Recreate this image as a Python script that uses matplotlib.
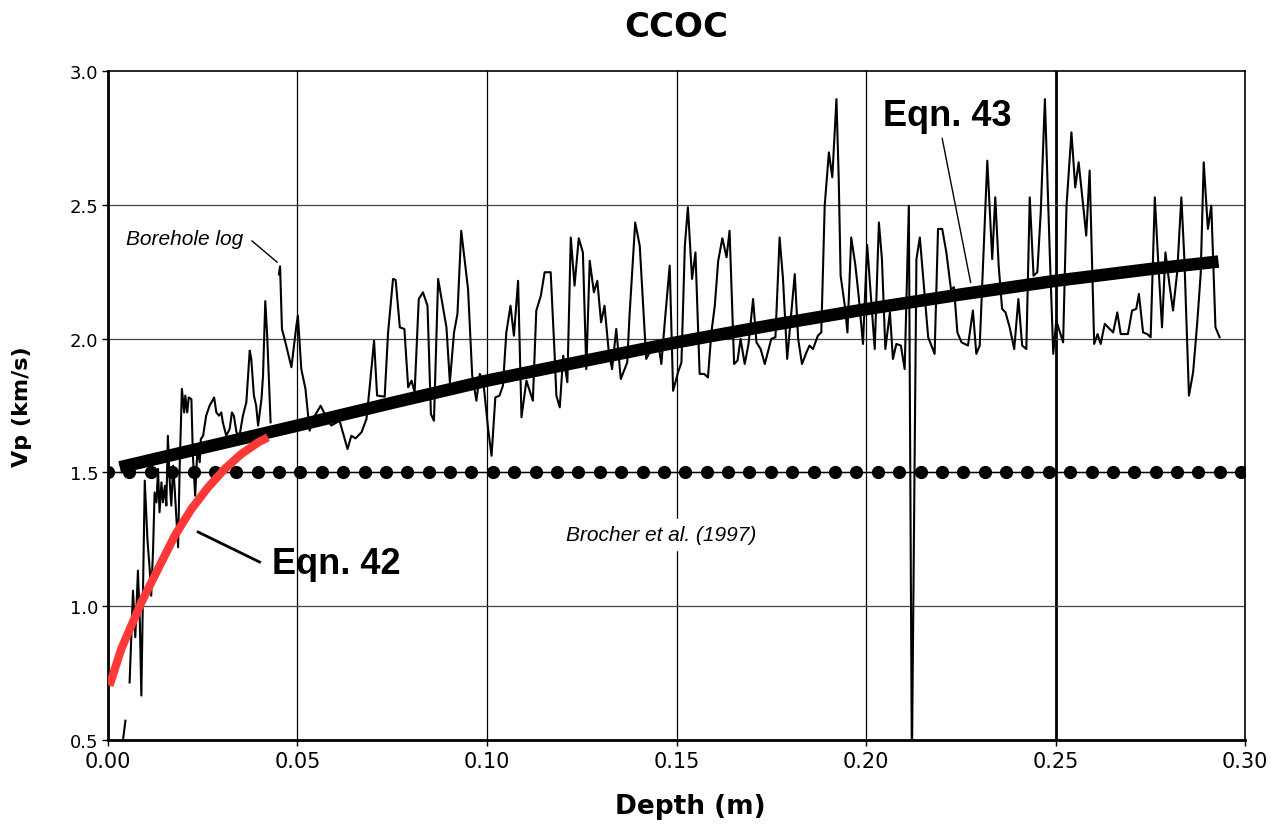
import numpy as np
import matplotlib
matplotlib.use('Agg')
import matplotlib.pyplot as plt

# borehole log (NaN = gap in the log)
depth_log = [
    0.0036, 0.0046, np.nan,
    0.0057, 0.0066, 0.0072, 0.0079, 0.0084, 0.0088, 0.0092, 0.0097, 0.0104, 0.0110,
    0.0114, 0.0119, 0.0123, 0.0128, 0.0132, 0.0136, 0.0141, 0.0145, 0.0150, 0.0154,
    0.0158, 0.0163, 0.0167, 0.0172, 0.0176, 0.0185, 0.0189, 0.0195, 0.0201, 0.0204,
    0.0209, 0.0213, 0.0220, 0.0224, 0.0230, 0.0236, 0.0242, 0.0245, 0.0251, 0.0259,
    0.0268, 0.0280, 0.0286, 0.0293, 0.0299, 0.0303, 0.0312, 0.0321, 0.0327, 0.0332,
    0.0339, 0.0347, 0.0356, 0.0365, 0.0374, 0.0378, 0.0385, 0.0391, 0.0396, 0.0405,
    0.0409, 0.0415, 0.0420, 0.0429, np.nan,
    0.0451, 0.0454, 0.0459, 0.0466, 0.0484, 0.0497,
    0.0501, 0.0510, 0.0521, 0.0532, 0.0541, 0.0561, 0.0572, 0.0589, 0.0611, 0.0632,
    0.0642, 0.0653, 0.0669, 0.0682, 0.0690, 0.0702, 0.0710, 0.0730, 0.0739, 0.0752,
    0.0759, 0.0770, 0.0782, 0.0792, 0.0801, 0.0809, 0.0820, 0.0831, 0.0843, 0.0852,
    0.0860, 0.0871, 0.0893, 0.0902, 0.0913, 0.0922, 0.0932, 0.0950, 0.0961, 0.0972,
    0.0981, 0.0990, 0.1003, 0.1012, 0.1022, 0.1033, 0.1042, 0.1051, 0.1062, 0.1071,
    0.1082, 0.1091, 0.1104, 0.1121, 0.1130, 0.1142, 0.1152, 0.1168, 0.1179, 0.1183,
    0.1192, 0.1201, 0.1212, 0.1221, 0.1231, 0.1242, 0.1253, 0.1262, 0.1271, 0.1282,
    0.1291, 0.1301, 0.1310, 0.1321, 0.1330, 0.1341, 0.1353, 0.1370, 0.1376, 0.1391,
    0.1403, 0.1420, 0.1434, 0.1451, 0.1460, 0.1469, 0.1482, 0.1491, 0.1504, 0.1513,
    0.1522, 0.1530, 0.1541, 0.1550, 0.1561, 0.1573, 0.1583, 0.1592, 0.1601, 0.1610,
    0.1621, 0.1632, 0.1640, 0.1652, 0.1661, 0.1669, 0.1680, 0.1690, 0.1702, 0.1711,
    0.1722, 0.1733, 0.1750, 0.1761, 0.1772, 0.1781, 0.1792, 0.1803, 0.1812, 0.1821,
    0.1831, 0.1843, 0.1851, 0.1860, 0.1873, 0.1882, 0.1891, 0.1902, 0.1911, 0.1922,
    0.1928, 0.1933, 0.1944, 0.1951, 0.1961, 0.1972, 0.1981, 0.1992, 0.2003, 0.2014,
    0.2023, 0.2034, 0.2042, 0.2051, 0.2063, 0.2071, 0.2080, 0.2092, 0.2102, 0.2113,
    0.2121, 0.2133, 0.2142, 0.2164, 0.2181, 0.2190, 0.2201, 0.2212, 0.2224, 0.2232,
    0.2241, 0.2252, 0.2269, 0.2282, 0.2291, 0.2300, 0.2309, 0.2320, 0.2333, 0.2341,
    0.2350, 0.2359, 0.2368, 0.2379, 0.2391, 0.2402, 0.2412, 0.2423, 0.2432, 0.2442,
    0.2452, 0.2461, 0.2472, 0.2485, 0.2494, 0.2502, 0.2520, 0.2529, 0.2542, 0.2552,
    0.2561, 0.2573, 0.2581, 0.2590, 0.2602, 0.2611, 0.2619, 0.2630, 0.2639, 0.2652,
    0.2663, 0.2672, 0.2691, 0.2702, 0.2713, 0.2720, 0.2731, 0.2742, 0.2751, 0.2762,
    0.2771, 0.2781, 0.2790, 0.2801, 0.2810, 0.2821, 0.2832, 0.2840, 0.2852, 0.2863,
    0.2874, 0.2883, 0.2891, 0.2902, 0.2911, 0.2922, 0.2933,
]
vp_log = [
    0.46, 0.572, np.nan,
    0.715, 1.058, 0.884, 1.133, 0.940, 0.666, 1.027, 1.469, 1.251, 1.139,
    1.039, 1.214, 1.425, 1.388, 1.513, 1.351, 1.463, 1.388, 1.450, 1.376,
    1.637, 1.463, 1.376, 1.525, 1.438, 1.220, 1.513, 1.812, 1.724, 1.787,
    1.724, 1.780, 1.774, 1.563, 1.413, 1.587, 1.538, 1.625, 1.637, 1.712,
    1.749, 1.780, 1.724, 1.712, 1.724, 1.687, 1.637, 1.662, 1.724, 1.712,
    1.650, 1.637, 1.712, 1.762, 1.955, 1.924, 1.787, 1.749, 1.675, 1.774,
    1.861, 2.140, 2.011, 1.687, np.nan,
    2.240, 2.270, 2.036, 1.998, 1.893, 2.048,
    2.086, 1.886, 1.812, 1.656, 1.700, 1.749, 1.718, 1.675, 1.693, 1.587,
    1.637, 1.627, 1.650, 1.700, 1.812, 1.992, 1.787, 1.783, 2.023, 2.223,
    2.219, 2.042, 2.036, 1.818, 1.843, 1.799, 2.148, 2.173, 2.123, 1.718,
    1.693, 2.223, 2.042, 1.837, 2.023, 2.092, 2.403, 2.185, 1.861, 1.768,
    1.868, 1.843, 1.662, 1.562, 1.780, 1.787, 1.824, 2.023, 2.123, 2.011,
    2.216, 1.706, 1.843, 1.768, 2.104, 2.160, 2.248, 2.248, 1.924, 1.787,
    1.743, 1.936, 1.837, 2.378, 2.198, 2.375, 2.322, 1.886, 2.291, 2.173,
    2.216, 2.061, 2.123, 1.955, 1.886, 2.036, 1.849, 1.911, 2.086, 2.434,
    2.347, 1.924, 1.961, 1.992, 1.905, 2.061, 2.273, 1.805, 1.874, 1.911,
    2.347, 2.491, 2.223, 2.322, 1.868, 1.868, 1.855, 2.023, 2.123, 2.291,
    2.375, 2.304, 2.403, 1.905, 1.918, 1.999, 1.905, 1.980, 2.148, 1.986,
    1.961, 1.905, 1.999, 2.005, 2.378, 2.223, 1.924, 2.098, 2.241, 1.999,
    1.905, 1.949, 1.974, 1.961, 2.011, 2.023, 2.497, 2.696, 2.603, 2.895,
    2.597, 2.235, 2.123, 2.023, 2.378, 2.273, 2.154, 1.980, 2.350, 2.136,
    1.961, 2.434, 2.297, 1.961, 2.098, 1.924, 1.980, 1.974, 1.886, 2.497,
    0.400, 2.297, 2.378, 2.005, 1.943, 2.410, 2.410, 2.322, 2.185, 2.192,
    2.023, 1.986, 1.974, 2.105, 1.943, 1.974, 2.285, 2.665, 2.297, 2.528,
    2.273, 2.111, 2.098, 2.042, 1.961, 2.148, 1.974, 1.961, 2.528, 2.235,
    2.248, 2.472, 2.895, 2.310, 1.943, 2.067, 1.986, 2.497, 2.771, 2.565,
    2.659, 2.497, 2.385, 2.628, 1.980, 2.017, 1.980, 2.055, 2.042, 2.023,
    2.098, 2.017, 2.017, 2.105, 2.111, 2.167, 2.023, 2.017, 2.005, 2.528,
    2.285, 2.042, 2.322, 2.198, 2.105, 2.248, 2.528, 2.297, 1.787, 1.874,
    2.061, 2.241, 2.659, 2.410, 2.497, 2.042, 2.005,
]

# Eqn. 43 (thick black curve)
depth_eq43 = [0.0031, 0.025, 0.05, 0.075, 0.10, 0.125, 0.15, 0.175, 0.20, 0.225, 0.25, 0.275, 0.293]
vp_eq43 = [1.519, 1.592, 1.675, 1.760, 1.843, 1.915, 1.986, 2.050, 2.110, 2.165, 2.216, 2.260, 2.288]

# Eqn. 42 (red curve)
depth_eq42 = [0.0004, 0.0035, 0.0088, 0.0132, 0.0176, 0.0220, 0.0264, 0.0308, 0.0352, 0.0396, 0.0422]
vp_eq42 = [0.703, 0.840, 1.014, 1.139, 1.263, 1.363, 1.444, 1.513, 1.569, 1.612, 1.631]

# Brocher et al. (1997): constant 1.5 km/s, evenly spaced markers
depth_brocher = np.linspace(0.0, 0.299, 54)
vp_brocher = np.full(depth_brocher.size, 1.5)

xticks = [0.00, 0.05, 0.10, 0.15, 0.20, 0.25, 0.30]
yticks = [0.5, 1.0, 1.5, 2.0, 2.5, 3.0]

fig = plt.figure(figsize=(12.78, 8.29), dpi=100)
ax = fig.add_axes([0.0845, 0.1062, 0.8897, 0.8069])

# grid
for x in xticks[1:-1]:
    ax.axvline(x, color='black', lw=2.0 if x == 0.25 else 0.9, zorder=1)
for y in yticks[1:-1]:
    ax.axhline(y, color='#444444', lw=0.9, zorder=1)

ax.plot(depth_log, vp_log, color='black', lw=1.5, zorder=3)
ax.plot(depth_brocher, vp_brocher, color='black', lw=1.0, marker='o', ms=8.5,
        mec='black', mfc='black', zorder=4)
ax.plot(depth_eq43, vp_eq43, color='black', lw=9, solid_capstyle='butt', zorder=5)
ax.plot(depth_eq42, vp_eq42, color='#FF3838', lw=6, solid_capstyle='butt', zorder=6)

ax.set_xlim(0, 0.30)
ax.set_ylim(0.5, 3.0)
ax.set_xticks(xticks)
ax.set_xticklabels([f'{v:.2f}' for v in xticks])
ax.set_yticks(yticks)
ax.set_yticklabels([f'{v:.1f}' for v in yticks])
ax.tick_params(direction='out', length=4, width=1, pad=4)
ax.tick_params(axis='x', labelsize=15)
ax.tick_params(axis='y', labelsize=13, pad=3)
for s in ax.spines.values():
    s.set_linewidth(1.2)
ax.spines['bottom'].set_linewidth(2)
ax.spines['left'].set_linewidth(2)

ax.set_xlabel('Depth (m)', fontsize=19, fontweight='bold')
ax.xaxis.set_label_coords(0.5125, -0.079)
ax.set_ylabel('Vp (km/s)', fontsize=16, fontweight='bold')
ax.yaxis.set_label_coords(-0.067, 0.5)
ax.set_title('CCOC', fontsize=24.5, fontweight='bold', pad=25)

lab = dict(family=['Liberation Sans', 'DejaVu Sans'])
ax.text(0.0047, 2.355, 'Borehole log', fontsize=15, style='italic', zorder=7, **lab)
ax.plot([0.0380, 0.0446], [2.365, 2.286], color='black', lw=1, zorder=7)

ax.text(0.2046, 2.80, 'Eqn. 43', fontsize=26, fontweight='bold', zorder=7, **lab)
ax.plot([0.2201, 0.2276], [2.748, 2.210], color='black', lw=1, zorder=7)

ax.text(0.0433, 1.125, 'Eqn. 42', fontsize=26, fontweight='bold', zorder=7, **lab)
ax.plot([0.0238, 0.0400], [1.277, 1.165], color='black', lw=2, zorder=7)

ax.text(0.146, 1.247, 'Brocher et al. (1997)', fontsize=15, style='italic',
        ha='center', zorder=7, backgroundcolor='white', **lab)

fig.savefig('out.png', dpi=100)
